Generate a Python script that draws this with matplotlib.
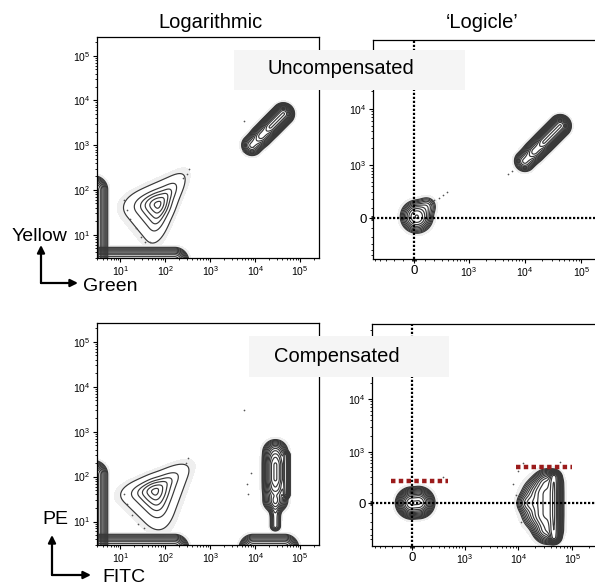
import numpy as np
import matplotlib
matplotlib.use("Agg")
import matplotlib.pyplot as plt
from matplotlib.patches import Rectangle, FancyArrowPatch
from matplotlib.ticker import FixedLocator, LogFormatterMathtext, NullFormatter, LogLocator

plt.rcParams['font.family'] = ['Liberation Sans', 'DejaVu Sans']
plt.rcParams['mathtext.fontset'] = 'custom'
plt.rcParams['mathtext.rm'] = 'Liberation Sans'
plt.rcParams['mathtext.it'] = 'Liberation Sans'
plt.rcParams['mathtext.default'] = 'regular'

# ---------------- data ----------------
column_titles = ["Logarithmic", "\u2018Logicle\u2019"]
row_labels = ["Uncompensated", "Compensated"]
axis_names_top = ("Green", "Yellow")
axis_names_bottom = ("FITC", "PE")

# triangular populations: outer corners and peak (data units)
tl_triangle_x = [7.3, 403, 65]
tl_triangle_y = [56, 339, 3.8]
tl_triangle_peak = (68, 47)
bl_triangle_x = [6.3, 462, 93]
bl_triangle_y = [50.5, 283, 3.6]
bl_triangle_peak = (59, 47)

# other populations: capsule components (x0, y0, x1, y1, spread_in_decades, weight)
tl_bottom_band = [(1.5, 2.5, 160, 2.5, 0.12, 1.0)]
tl_left_band = [(2.5, 1.5, 2.5, 100, 0.12, 1.0)]
tl_diagonal = [(8500, 1000, 42000, 5000, 0.10, 0.3), (14000, 1650, 42000, 5000, 0.09, 0.3),
               (22000, 2600, 42000, 5000, 0.075, 0.4)]

tr_zero = [(25, 15, 25, 15, 0.11, 1.0), (120, 120, 120, 120, 0.08, 0.15)]
tr_diagonal = [(10000, 1200, 42000, 5000, 0.08, 0.3), (15000, 1800, 42000, 5000, 0.07, 0.3),
               (22000, 2600, 42000, 5000, 0.06, 0.4)]

bl_bottom_band = [(1.5, 2.5, 160, 2.5, 0.12, 1.0)]
bl_left_band = [(2.5, 1.5, 2.5, 110, 0.12, 1.0)]
bl_bottom_band2 = [(9000, 2.5, 45000, 2.5, 0.12, 1.0)]
bl_vertical = [(28000, 30, 28000, 350, 0.12, 0.3), (28000, 8, 28000, 30, 0.06, 0.12),
               (28000, 60, 28000, 250, 0.10, 0.35), (28000, 90, 28000, 180, 0.09, 0.35),
               (48000, 40, 48000, 300, 0.035, 0.5)]

br_zero = [(0, 0, 60, 5, 0.11, 1.0)]
br_right = [(46000, -450, 46000, 300, 0.05, 0.6), (35000, -300, 35000, 200, 0.12, 0.3),
            (25000, -100, 25000, 80, 0.15, 0.2), (15000, 0, 15000, 0, 0.10, 0.1)]

# (x, y) isolated events
tl_events_x = [12, 14, 16, 22, 28, 35, 45, 250, 300, 330, 5600, 5300, 9000]
tl_events_y = [60, 35, 22, 14, 9, 7, 7, 180, 230, 300, 3400, 740, 900]
tr_events_x = [150, 200, 260, 320, 380, 5000, 6000, 7500]
tr_events_y = [150, 190, 220, 260, 300, 700, 800, 1000]
bl_events_x = [12, 14, 18, 25, 33, 280, 320, 5500, 6500, 7000, 8000]
bl_events_y = [40, 25, 14, 9, 7, 200, 260, 3000, 70, 40, 120]
br_events_x = [300, 380, 8000, 9000, 11000, 10000, 12000, 60000]
br_events_y = [250, 300, 200, 80, -200, 400, 600, 620]

red_gate_lo = (-220, 480, 240)      # x from, x to, y
red_gate_hi = (9000, 100000, 500)

log_lim = (3, 262144)
tr_xlim, tr_ylim = (-550, 262144), (-600, 160000)
br_xlim, br_ylim = (-570, 262144), (-680, 262144)
logicle_major_x = [0, 1e3, 1e4, 1e5]
logicle_major_y = [0, 1e3, 1e4]

# ---------------- helpers ----------------
LN10 = np.log(10)


def logicle(c):
    fwd = lambda x: np.arcsinh(np.asarray(x, dtype=float) / c) / LN10
    inv = lambda v: c * np.sinh(np.asarray(v, dtype=float) * LN10)
    return fwd, inv


def logfns():
    fwd = lambda x: np.log10(np.clip(np.asarray(x, dtype=float), 1e-9, None))
    inv = lambda v: 10 ** np.asarray(v, dtype=float)
    return fwd, inv


def density(U, V, comps, fx, fy):
    Z = np.zeros_like(U)
    for (x0, y0, x1, y1, s, w) in comps:
        u0, v0, u1, v1 = fx(x0), fy(y0), fx(x1), fy(y1)
        du, dv = u1 - u0, v1 - v0
        L2 = du * du + dv * dv
        if L2 > 0:
            t = np.clip(((U - u0) * du + (V - v0) * dv) / L2, 0, 1)
        else:
            t = 0.0
        d2 = (U - u0 - t * du) ** 2 + (V - v0 - t * dv) ** 2
        Z += w * np.exp(-d2 / (2 * s * s))
    return Z


def tri_density(U, V, xs, ys, peak, fx, fy, k=2.5):
    pu, pv = fx(xs), fy(ys)
    c = np.array([fx(peak[0]), fy(peak[1])])
    acc = np.zeros_like(U)
    for i in range(3):
        a = np.array([pu[i], pv[i]])
        b = np.array([pu[(i + 1) % 3], pv[(i + 1) % 3]])
        e = b - a
        n = np.array([e[1], -e[0]]) / np.hypot(*e)
        if np.dot(n, a - c) < 0:
            n = -n
        h = np.dot(n, a - c)
        d = ((U - c[0]) * n[0] + (V - c[1]) * n[1]) / h
        acc += np.clip(d, 0, None) ** k
    g = acc ** (1.0 / k)
    sig = 1 / 2.45
    Z = np.exp(-g ** 2 / (2 * sig ** 2))
    # rounder core around the peak
    Z += 0.45 * np.exp(-((U - c[0]) ** 2 + (V - c[1]) ** 2) / (2 * 0.14 ** 2))
    return Z


def grid(ulim, vlim):
    u = np.linspace(ulim[0] - 0.4, ulim[1] + 0.4, 450)
    v = np.linspace(vlim[0] - 0.4, vlim[1] + 0.4, 450)
    return np.meshgrid(u, v)


def draw_Z(ax, U, V, Z, ix, iy, levels):
    P = Z.max()
    X, Y = ix(U), iy(V)
    lv = P * np.asarray(levels)
    ax.contourf(X, Y, Z, levels=[lv[0] * 0.3, lv[0]], colors=['#efefef'], zorder=1)
    ax.contour(X, Y, Z, levels=lv, colors='#383838', linewidths=0.85, zorder=2)


def draw_pop(ax, comps, fx, fy, ix, iy, ulim, vlim, levels):
    U, V = grid(ulim, vlim)
    draw_Z(ax, U, V, density(U, V, comps, fx, fy), ix, iy, levels)


def style_common(ax):
    for sp in ax.spines.values():
        sp.set_linewidth(0.9)
    ax.tick_params(which='major', direction='out', length=3, width=0.8,
                   labelsize=7.5, pad=1.5)
    ax.tick_params(which='minor', direction='out', length=1.6, width=0.6)


def setup_log(ax):
    ax.set_xscale('log')
    ax.set_yscale('log')
    ax.set_xlim(*log_lim)
    ax.set_ylim(*log_lim)
    for a in (ax.xaxis, ax.yaxis):
        a.set_major_locator(FixedLocator([1e1, 1e2, 1e3, 1e4, 1e5]))
        a.set_major_formatter(LogFormatterMathtext())
        a.set_minor_locator(LogLocator(base=10, subs=np.arange(2, 10), numticks=20))
        a.set_minor_formatter(NullFormatter())
    style_common(ax)


def logicle_labels(vals):
    return ['0' if v == 0 else r'$10^{%d}$' % int(round(np.log10(v))) for v in vals]


def setup_logicle(ax, cx, cy, xlim, ylim):
    fx, ix = logicle(cx)
    fy, iy = logicle(cy)
    ax.set_xscale('function', functions=(fx, ix))
    ax.set_yscale('function', functions=(fy, iy))
    ax.set_xlim(*xlim)
    ax.set_ylim(*ylim)
    minors = [-500, -400, -300, -200, -100, -20, -10, 10, 20, 100, 200, 300, 400, 500,
              600, 700, 800, 900] + [k * 10 ** e for e in (3, 4) for k in range(2, 10)] + [1e5, 2e5]
    for a, lim, maj in ((ax.xaxis, xlim, logicle_major_x), (ax.yaxis, ylim, logicle_major_y)):
        majors = [m for m in maj if lim[0] <= m <= lim[1]]
        a.set_major_locator(FixedLocator(majors))
        a.set_ticklabels(logicle_labels(majors))
        a.set_minor_locator(FixedLocator([m for m in minors
                                          if lim[0] <= m <= lim[1] and m not in majors]))
    style_common(ax)
    for lab in ax.get_xticklabels() + ax.get_yticklabels():
        if lab.get_text() == '0':
            lab.set_fontsize(9.5)
    ax.spines['right'].set_visible(False)
    ax.axvline(0, color='k', lw=1.6, ls=(0, (1, 0.8)), zorder=4)
    ax.axhline(0, color='k', lw=1.6, ls=(0, (1, 0.8)), zorder=4)
    return fx, ix, fy, iy


# ---------------- figure ----------------
W, H = 595, 584
fig = plt.figure(figsize=(W / 100, H / 100), dpi=100)


def px_axes(left, top, width, height):
    return fig.add_axes([left / W, 1 - (top + height) / H, width / W, height / H])


ax_tl = px_axes(97, 37, 222, 221)
ax_tr = px_axes(373, 40, 232, 219)
ax_bl = px_axes(97, 323, 222, 222)
ax_br = px_axes(372, 324, 223, 222)

TRI = [0.035, 0.17, 0.33, 0.5, 0.72, 0.93]
BAND = list(np.geomspace(0.03, 0.97, 10))
DENSE = list(np.geomspace(0.02, 0.95, 13))

# log panels
lf, li = logfns()
lul = (lf(log_lim[0]), lf(log_lim[1]))
for ax, tri, pops, ex, ey in (
        (ax_tl, (tl_triangle_x, tl_triangle_y, tl_triangle_peak),
         [(tl_bottom_band, BAND), (tl_left_band, BAND), (tl_diagonal, DENSE)],
         tl_events_x, tl_events_y),
        (ax_bl, (bl_triangle_x, bl_triangle_y, bl_triangle_peak),
         [(bl_bottom_band, BAND), (bl_left_band, BAND), (bl_bottom_band2, BAND),
          (bl_vertical, DENSE)],
         bl_events_x, bl_events_y)):
    setup_log(ax)
    U, V = grid(lul, lul)
    draw_Z(ax, U, V, tri_density(U, V, tri[0], tri[1], tri[2], lf, lf), li, li, TRI)
    for comps, lv in pops:
        draw_pop(ax, comps, lf, lf, li, li, lul, lul, lv)
    ax.scatter(ex, ey, s=1.5, color='#555555', lw=0, zorder=3)

# logicle panels
fx, ix, fy, iy = setup_logicle(ax_tr, 215, 240, tr_xlim, tr_ylim)
for comps, lv in ((tr_zero, BAND), (tr_diagonal, DENSE)):
    draw_pop(ax_tr, comps, fx, fy, ix, iy, (fx(tr_xlim[0]), fx(tr_xlim[1])),
             (fy(tr_ylim[0]), fy(tr_ylim[1])), lv)
ax_tr.scatter(tr_events_x, tr_events_y, s=1.5, color='#555555', lw=0, zorder=3)

fx, ix, fy, iy = setup_logicle(ax_br, 215, 215, br_xlim, br_ylim)
for comps, lv in ((br_zero, DENSE), (br_right, DENSE)):
    draw_pop(ax_br, comps, fx, fy, ix, iy, (fx(br_xlim[0]), fx(br_xlim[1])),
             (fy(br_ylim[0]), fy(br_ylim[1])), lv)
ax_br.scatter(br_events_x, br_events_y, s=1.5, color='#555555', lw=0, zorder=3)
for x0, x1, y in (red_gate_lo, red_gate_hi):
    ax_br.plot([x0, x1], [y, y], color='#9b1b1b', lw=3.2, ls=(0, (1, 0.75)),
               solid_capstyle='butt', dash_capstyle='butt', zorder=5)

# titles
fig.text(210 / W, 1 - 22 / H, column_titles[0], ha='center', va='center', fontsize=14.5)
fig.text(482 / W, 1 - 22 / H, column_titles[1], ha='center', va='center', fontsize=14.5)

# row label boxes (drawn over the panels)
for (bx0, by0, bx1, by1, tx, ty), txt in zip(((234, 50, 465, 90, 341, 69),
                                              (249, 336, 449, 377, 337, 357)), row_labels):
    fig.add_artist(Rectangle((bx0 / W, 1 - by1 / H), (bx1 - bx0) / W, (by1 - by0) / H,
                             transform=fig.transFigure, facecolor='#f5f5f5',
                             edgecolor='none', zorder=10))
    fig.text(tx / W, 1 - ty / H, txt, ha='center', va='center', fontsize=14.5, zorder=11)

# channel arrows
for (ylab, xlab), (lx, ly, cx0, cy0, tipy, tipx, gx, gy) in zip(
        (axis_names_top[::-1], axis_names_bottom[::-1]),
        ((12, 236, 41, 283, 245, 78, 83, 286),
         (42, 520, 52, 575, 535, 91, 102, 577))):
    fig.text(lx / W, 1 - ly / H, ylab, ha='left', va='center', fontsize=14)
    fig.text(gx / W, 1 - gy / H, xlab, ha='left', va='center', fontsize=14)
    for (x1, y1) in ((cx0, tipy), (tipx, cy0)):
        fig.add_artist(FancyArrowPatch((cx0 / W, 1 - cy0 / H), (x1 / W, 1 - y1 / H),
                                       transform=fig.transFigure, arrowstyle='-|>',
                                       mutation_scale=11, lw=1.6, color='black',
                                       shrinkA=0, shrinkB=0))

fig.savefig("out.png", dpi=100)
